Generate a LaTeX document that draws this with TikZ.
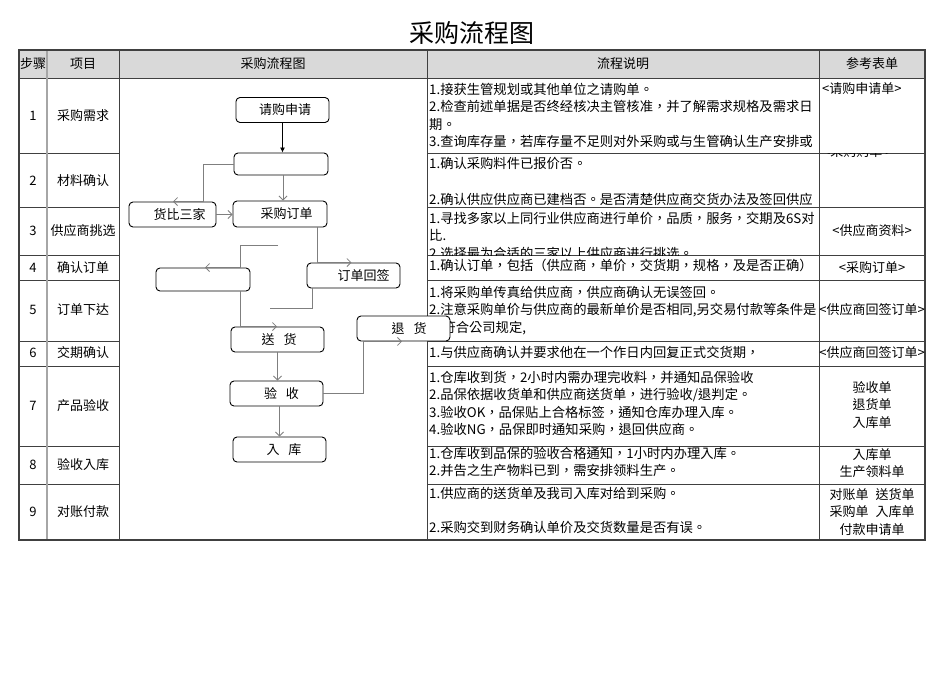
\documentclass[tikz,border=0pt]{standalone}
\usepackage{fontspec}
\setmainfont{Noto Sans CJK TC}
\usetikzlibrary{arrows.meta}
\definecolor{hdr}{HTML}{D9D9D9}
\definecolor{gridc}{HTML}{404040}
\definecolor{lgridc}{HTML}{A6A6A6}
\definecolor{conn}{HTML}{7F7F7F}
\begin{document}
\begin{tikzpicture}[x=1pt,y=-1pt,
  box/.style={draw=black,line width=0.9pt,rounded corners=4pt,fill=white,inner sep=0pt,
    minimum width=93pt,minimum height=25pt,font=\fontsize{13}{15}\selectfont},
  arr/.style={draw=conn,line width=0.8pt,-{Straight Barb[length=4pt,width=8pt,line width=0.8pt]}},
  conline/.style={draw=conn,line width=0.8pt},
  blkarr/.style={draw=black,line width=0.8pt,-{Latex[length=5pt,width=5pt]}},
  gridline/.style={draw=gridc,line width=0.9pt},
  lgridline/.style={draw=lgridc,line width=1.5pt},
  outerline/.style={draw=gridc,line width=1.4pt},
  cell/.style={font=\fontsize{13}{17.5}\selectfont,inner sep=0pt},
  dtxt/.style={font=\fontsize{13.3}{17.5}\selectfont,inner sep=0pt,anchor=base west,align=left},
  rtxt/.style={font=\fontsize{13}{17.8}\selectfont,inner sep=0pt,align=center}]
\useasboundingbox (0,0) rectangle (950,672);

\node[font=\fontsize{25}{30}\selectfont,inner sep=0pt] (title) at (472,33) {采购流程图};

% ---------- table ----------
\fill[hdr] (19,50) rectangle (925,78);
\foreach \y in {153,207,255,280,341,366,446,484} {
  \draw[gridline] (19,\y) -- (119,\y);
  \draw[gridline] (427,\y) -- (925,\y);
}
\draw[gridline] (19,78) -- (925,78);
\draw[lgridline] (47,50) -- (47,540);
\foreach \x in {119,427,819} \draw[gridline] (\x,50) -- (\x,540);
\draw[outerline] (19,50) rectangle (925,540);

% header
\node[cell] (h1) at (33,64) {步骤};
\node[cell] (h2) at (83,64) {项目};
\node[cell] (h3) at (273,64) {采购流程图};
\node[cell] (h4) at (623,64) {流程说明};
\node[cell] (h5) at (872,64) {参考表单};

% step numbers and items
\node[cell] (s1) at (33,116) {1};  \node[cell] (i1) at (83,116) {采购需求};
\node[cell] (s2) at (33,181) {2};  \node[cell] (i2) at (83,181) {材料确认};
\node[cell] (s3) at (33,231) {3};  \node[cell] (i3) at (83,231) {供应商挑选};
\node[cell] (s4) at (33,268) {4};  \node[cell] (i4) at (83,268) {确认订单};
\node[cell] (s5) at (33,310) {5};  \node[cell] (i5) at (83,310) {订单下达};
\node[cell] (s6) at (33,353) {6};  \node[cell] (i6) at (83,353) {交期确认};
\node[cell] (s7) at (33,406) {7};  \node[cell] (i7) at (83,406) {产品验收};
\node[cell] (s8) at (33,465) {8};  \node[cell] (i8) at (83,465) {验收入库};
\node[cell] (s9) at (33,512) {9};  \node[cell] (i9) at (83,512) {对账付款};

% description column (anchor = baseline of the last line)
\begin{scope}\clip (427,78) rectangle (819,153);
\node[dtxt] (d1) at (429,146.5) {1.接获生管规划或其他单位之请购单。\\2.检查前述单据是否终经核决主管核准，并了解需求规格及需求日\\期。\\3.查询库存量，若库存量不足则对外采购或与生管确认生产安排或};
\end{scope}
\begin{scope}\clip (427,153) rectangle (819,207);
\node[dtxt] (d2) at (429,204) {1.确认采购料件已报价否。\\[18pt]2.确认供应供应商已建档否。是否清楚供应商交货办法及签回供应};
\end{scope}
\begin{scope}\clip (427,207) rectangle (819,255);
\node[dtxt] (d3) at (429,258) {1.寻找多家以上同行业供应商进行单价，品质，服务，交期及6S对\\比.\\2.选择最为合适的三家以上供应商进行挑选。};
\end{scope}
\begin{scope}\clip (427,255) rectangle (819,280);
\node[dtxt] (d4) at (429,270) {1.确认订单，包括（供应商，单价，交货期，规格，及是否正确）};
\end{scope}
\begin{scope}\clip (427,280) rectangle (819,341);
\node[dtxt] (d5) at (429,332) {1.将采购单传真给供应商，供应商确认无误签回。\\2.注意采购单价与供应商的最新单价是否相同,另交易付款等条件是\\否符合公司规定,};
\end{scope}
\begin{scope}\clip (427,341) rectangle (819,366);
\node[dtxt] (d6) at (429,357) {1.与供应商确认并要求他在一个作日内回复正式交货期，};
\end{scope}
\begin{scope}\clip (427,366) rectangle (819,446);
\node[dtxt] (d7) at (429,434.5) {1.仓库收到货，2小时内需办理完收料，并通知品保验收\\2.品保依据收货单和供应商送货单，进行验收/退判定。\\3.验收OK，品保贴上合格标签，通知仓库办理入库。\\4.验收NG，品保即时通知采购，退回供应商。};
\end{scope}
\begin{scope}\clip (427,446) rectangle (819,484);
\node[dtxt] (d8) at (429,475.5) {1.仓库收到品保的验收合格通知，1小时内办理入库。\\2.并告之生产物料已到，需安排领料生产。};
\end{scope}
\begin{scope}\clip (427,484) rectangle (819,540);
\node[dtxt] (d9) at (429,532.5) {1.供应商的送货单及我司入库对给到采购。\\[17pt]2.采购交到财务确认单价及交货数量是否有误。};
\end{scope}

% reference forms column
\node[cell,anchor=west] (r1) at (822,89) {<请购申请单>};
\begin{scope}\clip (819,153) rectangle (925,207);
\node[cell,anchor=west] (r2) at (823,151.5) {<采购购单 >};
\end{scope}
\node[cell] (r3) at (872,231) {<供应商资料>};
\node[cell] (r4) at (872,268) {<采购订单>};
\begin{scope}\clip (819,280) rectangle (925,341);
\node[cell] (r5) at (872,310) {<供应商回签订单>};
\end{scope}
\begin{scope}\clip (819,341) rectangle (925,366);
\node[cell] (r6) at (872,353) {<供应商回签订单>};
\end{scope}
\node[rtxt] (r7) at (872,405) {验收单\\退货单\\入库单};
\node[rtxt] (r8) at (872,463) {入库单\\生产领料单};
\node[rtxt] (r9) at (872,512) {对账单\hspace{7pt}送货单\\采购单\hspace{7pt}入库单\\付款申请单};

% ---------- flow chart ----------
\node[box] (qg) at (282.5,110) {\hspace*{5pt}请购申请};
\node[box,minimum width=94pt,minimum height=22pt] (e1) at (281,164) {};
\node[box,minimum width=87pt] (hb) at (172.5,214.5) {\hspace*{14pt}货比三家};
\node[box,minimum width=94pt,minimum height=26pt] (cg) at (280,214) {\hspace*{13pt}采购订单};
\node[box,minimum width=94pt,minimum height=23pt] (e2) at (203,279.5) {};
\node[box] (dh) at (353.5,275.5) {\hspace*{20pt}订单回签};
\node[box] (sh) at (277.5,339.5) {\hspace*{3pt}送\hspace{9pt}货};
\node[box] (th) at (403.5,328.5) {\hspace*{11pt}退\hspace{9pt}货};
\node[box] (ys) at (276.5,393.5) {\hspace*{10pt}验\hspace{9pt}收};
\node[box] (rk) at (279.5,449.5) {\hspace*{9pt}入\hspace{9pt}库};

\coordinate (f1) at (270,308);
\coordinate (f2) at (278,245);

\draw[blkarr] (qg.south) -- (qg.south |- e1.north);
\draw[arr] ([xshift=2pt]e1.south) -- ([xshift=2pt]e1.south |- cg.north);
\draw[arr] (e1.west) -| ([xshift=30.5pt]hb.north) -- ([xshift=0.5pt]hb.north);
\draw[arr] (hb.east) -- (hb.east -| cg.west);
\draw[arr] ([xshift=37pt]cg.south) -- ([xshift=37pt]cg.south |- dh.north) -- ([xshift=-2pt]dh.north);
\draw[conline] ([xshift=-41.5pt]dh.south) |- (f1);
\draw[arr] (f2) -| ([xshift=37pt]e2.north) -- ([xshift=2pt]e2.north);
\draw[arr] ([xshift=37pt]e2.south) -- ([xshift=37pt]e2.south |- sh.north) -- ([xshift=-0.5pt]sh.north);
\draw[arr] (sh.south) -- (sh.south |- ys.north);
\draw[arr] ([xshift=3pt]ys.south) -- ([xshift=3pt]ys.south |- rk.north);
\draw[arr] (ys.east) -| ([xshift=-40.5pt]th.south) -- ([xshift=-1.5pt]th.south);
\end{tikzpicture}
\end{document}
